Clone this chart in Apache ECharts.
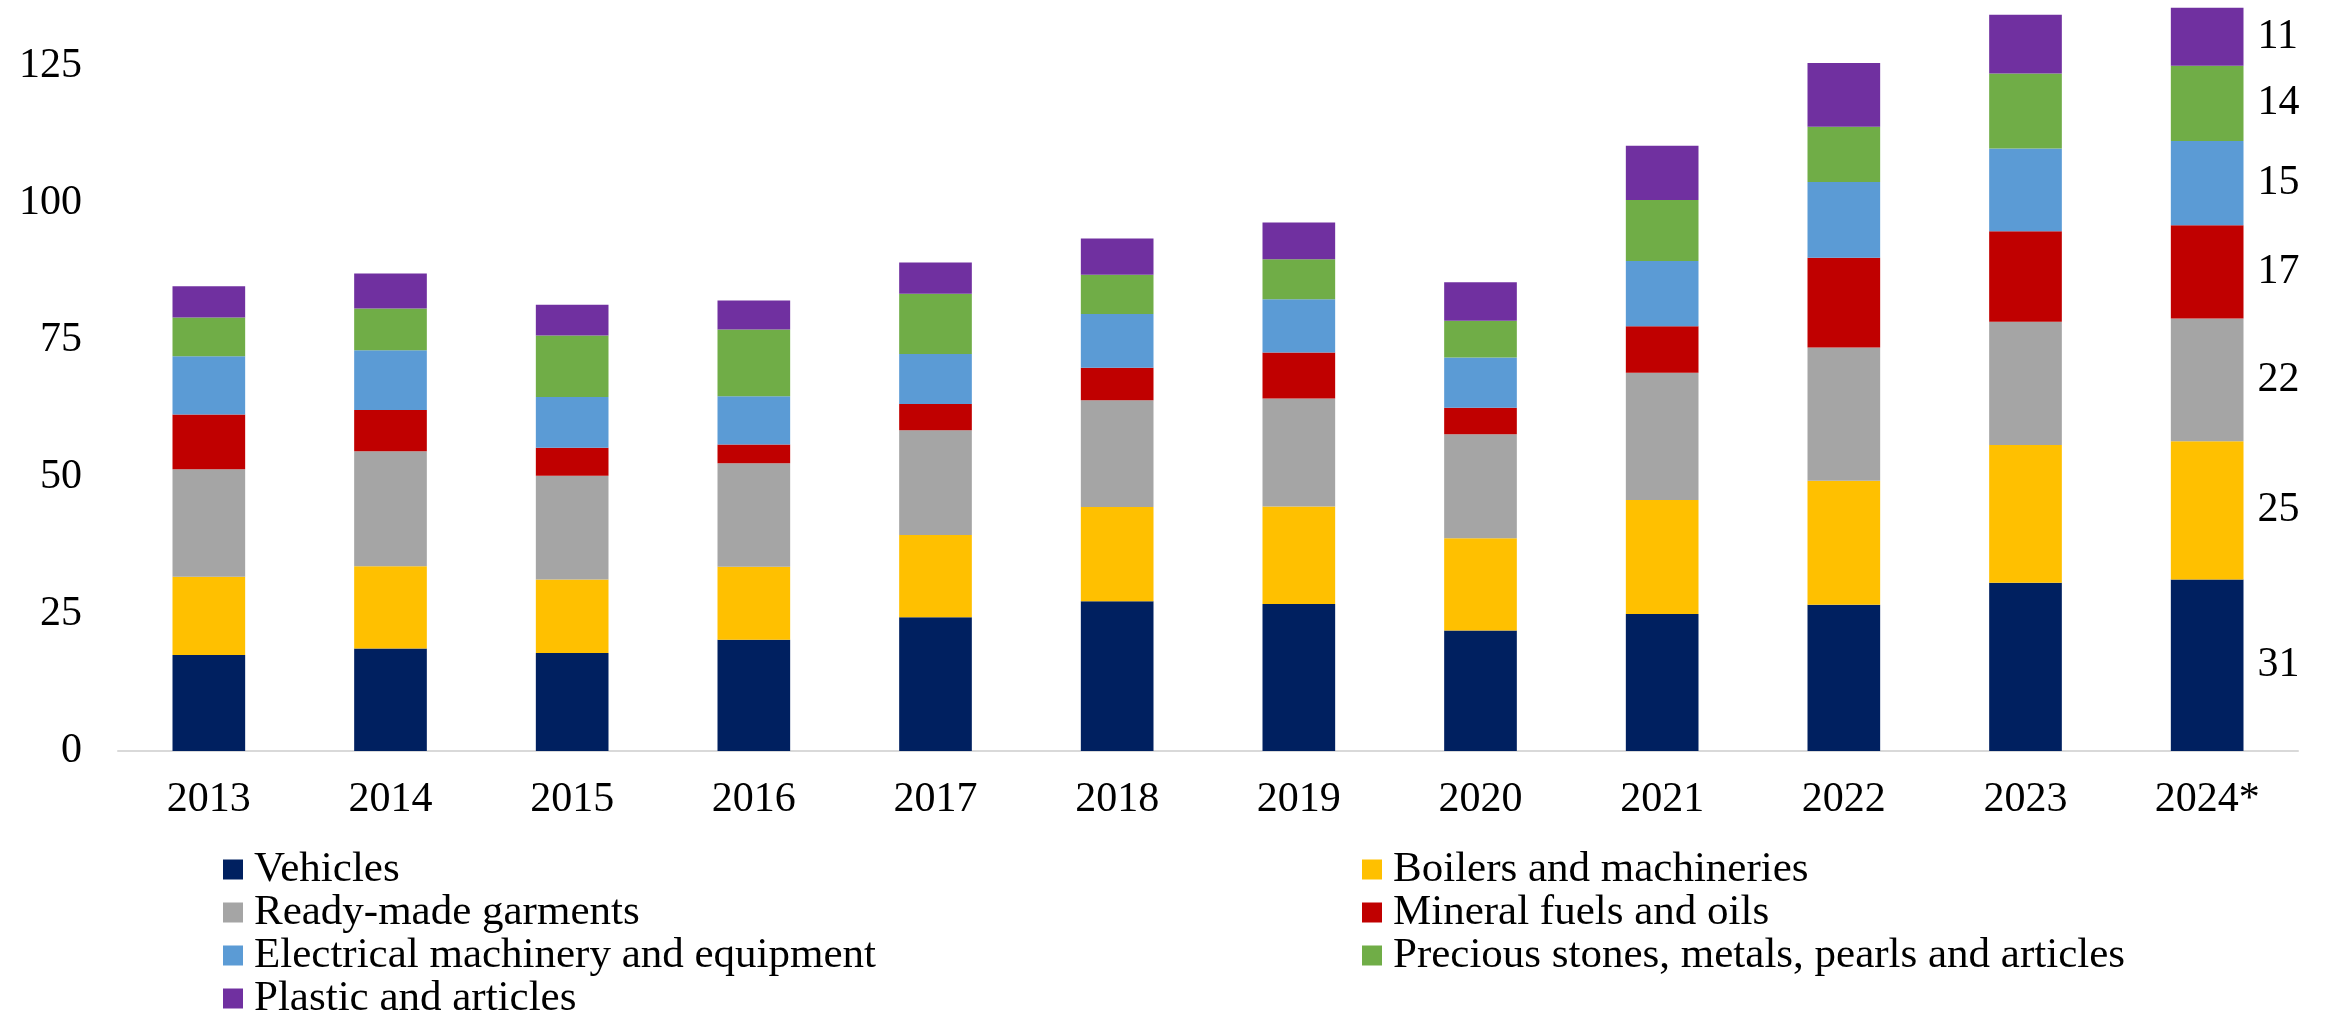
<!DOCTYPE html>
<html>
<head>
<meta charset="utf-8">
<script src="https://cdn.jsdelivr.net/npm/echarts@6/dist/echarts.min.js"></script>
<style>
html,body{margin:0;padding:0;background:#fff;}
#chart{width:2328px;height:1015px;}
</style>
</head>
<body>
<div id="chart"></div>
<script>
const years = ['2013','2014','2015','2016','2017','2018','2019','2020','2021','2022','2023','2024*'];
const vehicles    = [17.5, 18.7, 17.9, 20.3, 24.4, 27.3, 26.8, 22.0, 25.0, 26.7, 30.7, 31.3];
const boilers     = [14.3, 15.0, 13.4, 13.3, 15.0, 17.2, 17.8, 16.8, 20.8, 22.6, 25.1, 25.2];
const garments    = [19.6, 21.0, 18.9, 18.9, 19.1, 19.5, 19.7, 19.0, 23.2, 24.3, 22.5, 22.4];
const mineral     = [10.0, 7.5, 5.1, 3.4, 4.8, 5.9, 8.4, 4.8, 8.5, 16.4, 16.5, 17.0];
const electrical  = [10.6, 10.9, 9.3, 8.8, 9.1, 9.8, 9.7, 9.2, 11.9, 13.8, 15.1, 15.4];
const precious    = [7.1, 7.6, 11.2, 12.2, 11.0, 7.2, 7.3, 6.7, 11.1, 10.1, 13.7, 13.7];
const plastic     = [5.7, 6.4, 5.6, 5.3, 5.7, 6.6, 6.7, 7.0, 9.9, 11.6, 10.7, 10.6];
const yTicks = [0, 25, 50, 75, 100, 125];

const seriesDefs = [
  {name:'Vehicles', data:vehicles, color:'#002060'},
  {name:'Boilers and machineries', data:boilers, color:'#FFC000'},
  {name:'Ready-made garments', data:garments, color:'#A5A5A5'},
  {name:'Mineral fuels and oils', data:mineral, color:'#C00000'},
  {name:'Electrical machinery and equipment', data:electrical, color:'#5B9BD5'},
  {name:'Precious stones, metals, pearls and articles', data:precious, color:'#70AD47'},
  {name:'Plastic and articles', data:plastic, color:'#7030A0'}
];

const FONT = 'Liberation Serif';
const FS = 42;
const lastIdx = years.length - 1;

const series = seriesDefs.map(s => ({
  name: s.name,
  type: 'bar',
  stack: 'total',
  barWidth: '40%',
  itemStyle: {color: s.color},
  emphasis: {disabled: true},
  data: s.data.map((v, i) => {
    if (i === lastIdx) {
      return {
        value: v,
        label: {
          show: true,
          position: 'right',
          distance: 14,
          color: '#000',
          fontFamily: FONT,
          fontSize: FS,
          formatter: p => Math.round(p.value)
        }
      };
    }
    return v;
  })
}));

const legendText = {fontFamily: FONT, fontSize: 43, color: '#000', lineHeight: 43, padding: [0,0,0,6]};

const chart = echarts.init(document.getElementById('chart'), null, {renderer: 'canvas'});
chart.setOption({
  animation: false,
  backgroundColor: '#fff',
  grid: {left: 118, right: 30, top: 0, bottom: 264, containLabel: false},
  xAxis: {
    type: 'category',
    data: years,
    axisLine: {show: true, lineStyle: {color: '#D9D9D9', width: 2}},
    axisTick: {show: false},
    axisLabel: {fontFamily: FONT, fontSize: FS, color: '#000', margin: 28}
  },
  yAxis: {
    type: 'value',
    min: yTicks[0],
    max: 137,
    interval: yTicks[1] - yTicks[0],
    axisLine: {show: false},
    axisTick: {show: false},
    splitLine: {show: false},
    axisLabel: {fontFamily: FONT, fontSize: FS, color: '#000', margin: 36, showMaxLabel: false}
  },
  legend: [
    {
      orient: 'vertical', left: 223, top: 848, width: 1000, height: 300, padding: 0, itemGap: 0,
      itemWidth: 20, itemHeight: 20, icon: 'rect',
      data: ['Vehicles','Ready-made garments','Electrical machinery and equipment','Plastic and articles'],
      textStyle: legendText, selectedMode: false
    },
    {
      orient: 'vertical', left: 1362, top: 848, width: 900, height: 300, padding: 0, itemGap: 0,
      itemWidth: 20, itemHeight: 20, icon: 'rect',
      data: ['Boilers and machineries','Mineral fuels and oils','Precious stones, metals, pearls and articles'],
      textStyle: legendText, selectedMode: false
    }
  ],
  series: series
});
</script>
</body>
</html>
